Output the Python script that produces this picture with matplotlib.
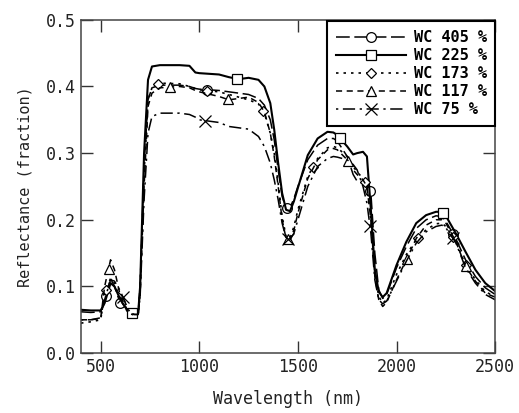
#!/usr/bin/python3

import matplotlib.pyplot as plt
import numpy as np


# wavelength grid (nm)
wl = [400, 450, 500, 520, 550, 570, 600, 640, 670, 690, 700, 720, 740, 760,
      800, 900, 950, 980, 1000, 1100, 1150, 1200, 1250, 1300, 1330, 1360,
      1380, 1400, 1420, 1440, 1460, 1480, 1500, 1550, 1600, 1650, 1680,
      1700, 1750, 1780, 1800, 1830, 1850, 1870, 1890, 1910, 1930, 1950,
      2000, 2050, 2100, 2150, 2200, 2230, 2250, 2300, 2350, 2400, 2450, 2500]

wc405 = [0.062, 0.061, 0.062, 0.080, 0.112, 0.100, 0.074, 0.062, 0.058, 0.060,
         0.100, 0.280, 0.380, 0.398, 0.402, 0.402, 0.400, 0.397, 0.396, 0.394,
         0.392, 0.390, 0.388, 0.382, 0.372, 0.350, 0.320, 0.275, 0.235, 0.218,
         0.218, 0.232, 0.250, 0.290, 0.312, 0.322, 0.322, 0.318, 0.295, 0.268,
         0.258, 0.255, 0.252, 0.240, 0.150, 0.095, 0.082, 0.088, 0.128, 0.160,
         0.187, 0.200, 0.206, 0.205, 0.198, 0.172, 0.140, 0.115, 0.098, 0.088]

wc225 = [0.065, 0.064, 0.064, 0.075, 0.105, 0.100, 0.080, 0.062, 0.058, 0.060,
         0.100, 0.300, 0.410, 0.430, 0.432, 0.432, 0.431, 0.421, 0.420, 0.418,
         0.414, 0.411, 0.413, 0.410, 0.400, 0.375, 0.335, 0.285, 0.240, 0.215,
         0.213, 0.228, 0.248, 0.297, 0.322, 0.332, 0.331, 0.327, 0.310, 0.298,
         0.300, 0.302, 0.295, 0.215, 0.125, 0.092, 0.084, 0.090, 0.132, 0.167,
         0.195, 0.207, 0.212, 0.212, 0.206, 0.180, 0.152, 0.125, 0.105, 0.093]

wc173 = [0.045, 0.047, 0.050, 0.090, 0.112, 0.105, 0.080, 0.060, 0.057, 0.058,
         0.095, 0.270, 0.380, 0.398, 0.405, 0.404, 0.400, 0.397, 0.395, 0.392,
         0.388, 0.384, 0.380, 0.374, 0.360, 0.330, 0.300, 0.255, 0.205, 0.175,
         0.172, 0.190, 0.215, 0.265, 0.292, 0.308, 0.310, 0.308, 0.295, 0.280,
         0.272, 0.262, 0.250, 0.200, 0.120, 0.085, 0.075, 0.080, 0.118, 0.148,
         0.170, 0.185, 0.194, 0.195, 0.190, 0.168, 0.132, 0.110, 0.092, 0.085]

wc117 = [0.050, 0.050, 0.052, 0.100, 0.140, 0.125, 0.085, 0.062, 0.058, 0.058,
         0.090, 0.250, 0.370, 0.390, 0.398, 0.400, 0.398, 0.394, 0.392, 0.385,
         0.380, 0.382, 0.384, 0.376, 0.362, 0.330, 0.295, 0.250, 0.200, 0.172,
         0.170, 0.185, 0.210, 0.262, 0.290, 0.305, 0.307, 0.305, 0.290, 0.275,
         0.268, 0.260, 0.250, 0.200, 0.115, 0.080, 0.070, 0.076, 0.110, 0.140,
         0.172, 0.192, 0.200, 0.200, 0.195, 0.168, 0.130, 0.108, 0.090, 0.084]

wc75 = [0.050, 0.050, 0.053, 0.080, 0.110, 0.108, 0.093, 0.065, 0.058, 0.058,
        0.085, 0.230, 0.330, 0.355, 0.360, 0.360, 0.358, 0.354, 0.350, 0.346,
        0.340, 0.338, 0.336, 0.325, 0.310, 0.285, 0.260, 0.230, 0.195, 0.172,
        0.170, 0.180, 0.200, 0.250, 0.280, 0.292, 0.295, 0.294, 0.290, 0.283,
        0.275, 0.250, 0.225, 0.180, 0.110, 0.080, 0.074, 0.078, 0.108, 0.138,
        0.165, 0.182, 0.190, 0.192, 0.188, 0.166, 0.128, 0.105, 0.088, 0.080]

# where the sparse symbols sit (nm)
mk405 = [525, 598, 1039, 1444, 1865, 2286]
mk225 = [659, 1190, 1713, 2235]
mk173 = [527, 791, 1039, 1323, 1577, 1840, 2110, 2286, 2350]
mk117 = [540, 851, 1145, 1450, 1755, 2053, 2350]
mk75 = [613, 1029, 1450, 1865, 2286]

labels = ['WC 405 %', 'WC 225 %', 'WC 173 %', 'WC 117 %', 'WC 75 %']

FONT = 'DejaVu Sans Mono'


def draw(ax, y, marks, ls, lw, marker, ms, label):
    ax.plot(wl, y, color='black', linestyle=ls, linewidth=lw)
    ax.plot(marks, np.interp(marks, wl, y), linestyle='none', marker=marker,
            markersize=ms, markerfacecolor='white', markeredgecolor='black',
            markeredgewidth=0.9)
    # legend proxy
    ax.plot([], [], color='black', linestyle=ls, linewidth=lw, marker=marker,
            markersize=ms, markerfacecolor='white', markeredgecolor='black',
            markeredgewidth=0.9, label=label)


if __name__ == "__main__":

    plt.rcParams['font.family'] = FONT

    fig = plt.figure(figsize=(5.19, 4.13), dpi=100)
    ax = fig.add_axes([0.156, 0.145, 0.798, 0.807])

    draw(ax, wc405, mk405, (0, (9, 3)), 1.1, 'o', 7, labels[0])
    draw(ax, wc225, mk225, '-', 1.5, 's', 7, labels[1])
    draw(ax, wc173, mk173, (0, (1.5, 3)), 1.2, 'D', 5.5, labels[2])
    draw(ax, wc117, mk117, (0, (4, 3)), 1.1, '^', 7, labels[3])
    draw(ax, wc75, mk75, (0, (1.5, 3, 8, 3)), 1.1, 'x', 8, labels[4])

    ax.set_xlim(400, 2500)
    ax.set_ylim(0.0, 0.5)
    ax.set_xticks([500, 1000, 1500, 2000, 2500])
    ax.set_yticks([0.0, 0.1, 0.2, 0.3, 0.4, 0.5])
    ax.set_yticklabels(['0.0', '0.1', '0.2', '0.3', '0.4', '0.5'])
    ax.tick_params(direction='in', length=8.5, width=1.0, labelsize=12,
                   top=True, right=True, colors='#333333', labelcolor='#222222')
    for s in ax.spines.values():
        s.set_linewidth(1.1)
        s.set_color('#444444')

    ax.set_xlabel('Wavelength (nm)', fontsize=12, color='#222222', labelpad=10)
    ax.set_ylabel('Reflectance (fraction)', fontsize=11, color='#222222', labelpad=10)

    leg = ax.legend(loc='upper right', bbox_to_anchor=(1.0, 0.995), fontsize=11,
                    handlelength=4.6, handletextpad=0.5, labelspacing=0.2,
                    borderpad=0.55, borderaxespad=0.0, fancybox=False,
                    framealpha=1.0, edgecolor='black')
    leg.get_frame().set_linewidth(1.5)
    for t in leg.get_texts():
        t.set_fontweight('bold')

    fig.savefig("out.png", dpi=100)
